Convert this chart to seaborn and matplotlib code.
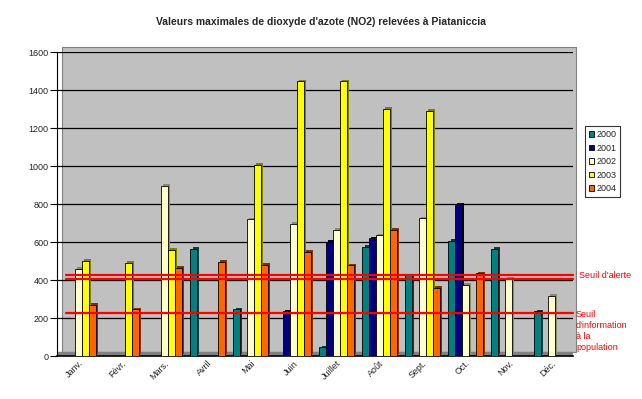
import matplotlib
matplotlib.use("Agg")
import matplotlib.pyplot as plt
import matplotlib.patheffects as pe
from matplotlib.patches import Rectangle
from matplotlib.transforms import Bbox, TransformedBbox
import numpy as np
import pandas as pd
import seaborn as sns

# ── data ──────────────────────────────────────────────────────────────────────
months = ["Janv.", "Févr.", "Mars.", "Avril", "Mai", "Juin", "Juillet",
          "Août", "Sept.", "Oct.", "Nov.", "Déc."]
years = ["2000", "2001", "2002", "2003", "2004"]

nan = np.nan
v2000 = [nan, nan, nan, 565, 245, nan, 45, 575, 425, 605, 565, 235]
v2001 = [nan, nan, nan, nan, nan, 235, 600, 620, nan, 795, nan, nan]
v2002 = [460, nan, 895, nan, 720, 695, 665, 635, 725, 375, 405, 315]
v2003 = [500, 490, 560, nan, 1005, 1445, 1445, 1300, 1290, nan, nan, nan]
v2004 = [270, 245, 465, 495, 480, 550, 478, 665, 360, 435, nan, nan]

seuil_alerte = [425, 405]
seuil_info = 225

colors = ["#008080", "#000080", "#FFFFCC", "#FFFF00", "#FF6600"]
sides = ["#004040", "#000040", "#8A8A70", "#808000", "#803300"]

rows = []
for year, vals in zip(years, [v2000, v2001, v2002, v2003, v2004]):
    for m, v in zip(months, vals):
        if not np.isnan(v):
            rows.append({"mois": m, "annee": year, "valeur": v})
df = pd.DataFrame(rows)

# ── figure ───────────────────────────────────────────────────────────────────
sns.set_style("white")
plt.rcParams["font.family"] = ["Liberation Sans", "DejaVu Sans"]

fig = plt.figure(figsize=(6.42, 3.99), dpi=100)
W, H = 642, 399

ax = fig.add_axes([57 / W, (H - 356) / H, 516 / W, 304 / H])
ax.set_facecolor("none")

# back wall (3D look)
ax.add_patch(Rectangle((62 / W, (H - 352) / H), (576 - 62) / W, (352 - 47) / H,
                       transform=fig.transFigure, facecolor="#C0C0C0",
                       edgecolor="#808080", lw=0.8, zorder=0, clip_on=False))

sns.barplot(data=df, x="mois", y="valeur", hue="annee", order=months,
            hue_order=years, palette=colors, width=0.8, edgecolor="black",
            linewidth=0.6, saturation=1, ax=ax, legend=False, zorder=3)

for container, side in zip(ax.containers, sides):
    for patch in container:
        patch.set_path_effects([
            pe.SimplePatchShadow(offset=(1.6, 1.2), shadow_rgbFace=side, alpha=1.0, rho=1),
            pe.Normal()])

ax.axhspan(0, 20, color="#808080", zorder=1)
ax.set_xlim(-0.5, 11.5)
ax.set_ylim(0, 1600)
ax.set_yticks(range(0, 1601, 200))
ax.yaxis.grid(True, color="black", lw=0.9, zorder=0.5)
ax.set_axisbelow(True)

for s in ["top", "right"]:
    ax.spines[s].set_visible(False)
ax.spines["left"].set_color("black")
ax.spines["bottom"].set_color("black")
ax.spines["bottom"].set_linewidth(1.2)

ax.set_xticks(np.arange(-0.5, 12, 1), minor=True)
ax.tick_params(axis="x", which="minor", length=4, width=0.8, color="black", direction="out")
ax.tick_params(axis="x", which="major", length=0, pad=2)
ax.tick_params(axis="y", length=5, width=0.8, color="black", labelsize=6.5, pad=1, left=True)
ax.set_xticks(range(12))
ax.set_xticklabels(months, rotation=45, ha="right", va="top",
                   rotation_mode="anchor", fontsize=6.5)
ax.set_xlabel("")
ax.set_ylabel("")

# threshold lines
for s in seuil_alerte:
    ax.axhline(s, xmin=0.017, xmax=1.0, color="red", lw=1.6, zorder=4, clip_on=False)
ax.axhline(seuil_info, xmin=0.017, xmax=1.0, color="red", lw=1.6, zorder=4, clip_on=False)

fig.text(579 / W, (H - 276) / H, "Seuil d'alerte", color="red", fontsize=6.5,
         va="center", ha="left")
info = fig.text(576 / W, (H - 310) / H, "Seuil\nd'information\nà la\npopulation",
                color="red", fontsize=6.5, va="top", ha="left", linespacing=1.3)
info.set_clip_box(TransformedBbox(Bbox([[560 / W, (H - 352) / H], [1, 1]]),
                                  fig.transFigure))
info.set_clip_on(True)

fig.suptitle("Valeurs maximales de dioxyde d'azote (NO2) relevées à Piataniccia",
             x=321 / W, y=(H - 22) / H, va="center", fontsize=7.5, fontweight="bold")

handles = [Rectangle((0, 0), 1, 1, facecolor=c, edgecolor="black", lw=0.6) for c in colors]
leg = fig.legend(handles, years, loc="upper left",
                 bbox_to_anchor=(585 / W, (H - 126) / H), fontsize=6.5,
                 frameon=True, fancybox=False, edgecolor="black",
                 handlelength=0.6, handleheight=0.6, handletextpad=0.2,
                 borderpad=0.45, labelspacing=0.5, borderaxespad=0)
leg.get_frame().set_linewidth(0.8)

fig.savefig("out.png", dpi=100)
